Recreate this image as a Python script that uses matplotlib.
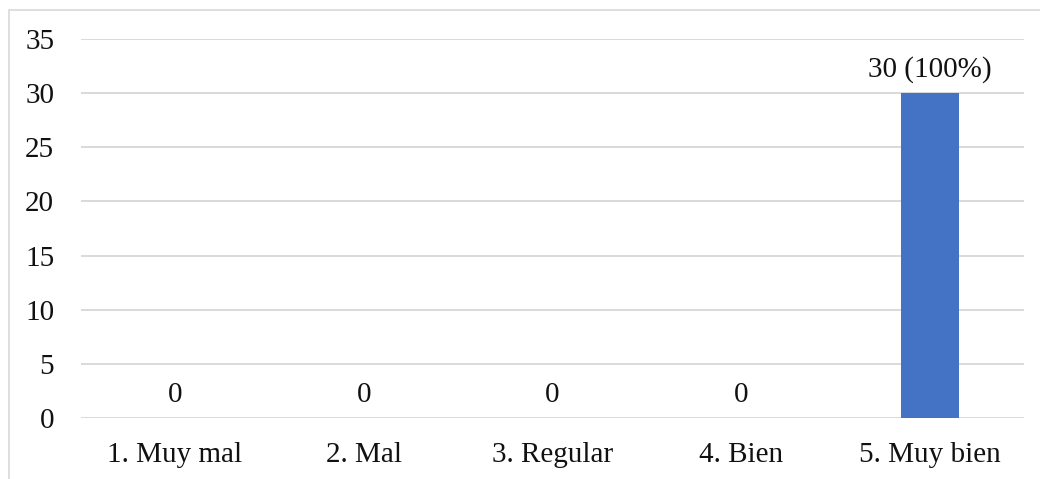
import matplotlib.pyplot as plt
from matplotlib.patches import Rectangle

# datos ---------------------------------
categorias = ['1. Muy mal', '2. Mal', '3. Regular', '4. Bien', '5. Muy bien']
valores = [0, 0, 0, 0, 30]
etiquetas = ['0', '0', '0', '0', '30 (100%)']
yticks = [0, 5, 10, 15, 20, 25, 30, 35]

plt.rcParams['font.family'] = ['Liberation Serif', 'DejaVu Serif']

fig = plt.figure(figsize=(10.4, 4.79), dpi=100)
ax = fig.add_axes([0.0775, 0.1273, 0.9075, 0.7913])

x = range(len(categorias))
barras = ax.bar(x, valores, width=0.31, color='#4472C4', zorder=3)

for xi, v, txt in zip(x, valores, etiquetas):
    ax.annotate(txt, (xi, v), xytext=(0, 7.5), textcoords='offset points',
                ha='center', va='bottom', fontsize=21, color='#111111')

ax.set_xlim(-0.5, len(categorias) - 0.5)
ax.set_ylim(0, 35)
ax.set_yticks(yticks)
ax.set_xticks(list(x))
ax.set_xticklabels(categorias)
ax.tick_params(axis='both', length=0, labelsize=21, colors='#111111')
ax.tick_params(axis='y', pad=19)
ax.tick_params(axis='x', pad=17.5)
ax.grid(axis='y', color='#d9d9d9', linewidth=1.4, zorder=0)
for s in ax.spines.values():
    s.set_visible(False)

# borde del gráfico
fig.patches.append(Rectangle((8.5 / 1040, -0.1), 1.2, 1 - 9.5 / 479 + 0.1,
                             transform=fig.transFigure, fill=False,
                             edgecolor='#d9d9d9', linewidth=1.2))

fig.savefig('out.png', dpi=100)
